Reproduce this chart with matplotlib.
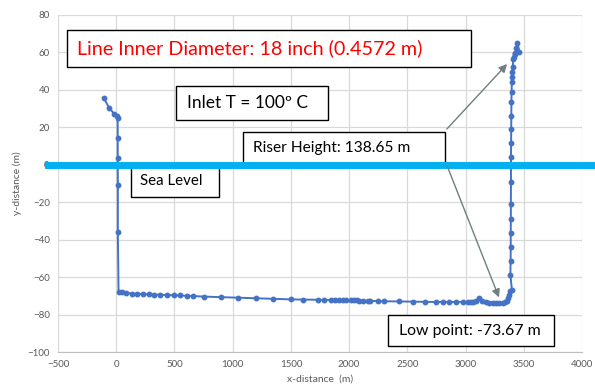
import matplotlib
matplotlib.use('Agg')
import matplotlib.pyplot as plt
from matplotlib.patches import Rectangle

# pipeline profile: onshore drop, seabed run, riser
x_down = [-105, -62, -15, 5, 12, 13, 13, 14, 14, 20]
y_down = [35.5, 30.5, 27.0, 26.0, 25.0, 14.5, 3.5, -11.0, -36.0, -68.0]

x_seabed = [49, 86, 135, 178, 229, 278, 326, 378, 435, 493, 550, 605, 658, 750,
            900, 1050, 1200, 1350, 1500, 1600, 1729, 1786, 1844, 1881, 1915, 1944,
            1972, 2016, 2044, 2064, 2087, 2121, 2158, 2179, 2244, 2302, 2425, 2545,
            2651, 2746, 2803, 2860, 2917, 2974, 3017, 3046, 3066, 3089, 3117, 3141,
            3175, 3203, 3232, 3261, 3289, 3318, 3338, 3352]
y_seabed = [-68.0, -68.3, -68.8, -69.0, -69.1, -69.2, -69.3, -69.4, -69.6, -69.7,
            -69.8, -70.0, -70.1, -70.4, -70.7, -71.0, -71.3, -71.6, -71.9, -72.0,
            -72.1, -72.2, -72.2, -72.3, -72.3, -72.4, -72.4, -72.3, -72.3, -72.2,
            -72.5, -72.6, -72.7, -72.7, -72.8, -72.9, -73.0, -73.1, -73.2, -73.3,
            -73.3, -73.3, -73.3, -73.2, -73.4, -73.5, -73.5, -72.5, -71.2, -72.5,
            -73.5, -73.6, -73.67, -73.67, -73.67, -73.6, -73.4, -72.8]

x_riser = [3362, 3372, 3378, 3398, 3385, 3387, 3388, 3388, 3389, 3389, 3390, 3390,
           3391, 3392, 3393, 3394, 3395, 3398, 3400, 3402, 3405, 3410, 3418, 3424,
           3428, 3432, 3446, 3461]
y_riser = [-71.0, -69.8, -67.2, -66.9, -58.7, -51.2, -43.7, -36.2, -28.7, -21.2,
           -9.2, 4.2, 11.4, 18.9, 26.0, 33.7, 39.0, 44.4, 47.1, 49.8, 52.4, 56.4,
           57.5, 59.0, 59.6, 62.3, 65.0, 60.5]

x_all = x_down + x_seabed + x_riser
y_all = y_down + y_seabed + y_riser

W, H = 595, 385
plt.rcParams['font.family'] = ['Lato', 'DejaVu Sans']

fig = plt.figure(figsize=(W / 100, H / 100), dpi=100)
ax = fig.add_axes([58 / W, 1 - 352 / H, (582 - 58) / W, (352 - 15) / H])

ax.plot(x_all, y_all, color='#4472C4', lw=1.4, marker='o', markersize=3.2, zorder=3)

ax.set_xlim(-500, 4000)
ax.set_ylim(-100, 80)
ax.set_xticks(range(-500, 4001, 500))
ax.set_yticks(range(-100, 81, 20))
ax.grid(True, color='#D9D9D9', lw=0.9)
ax.set_axisbelow(True)
for s in ['top', 'left', 'right']:
    ax.spines[s].set_visible(False)
ax.spines['bottom'].set_color('#BFBFBF')
ax.tick_params(length=0, labelsize=7, labelcolor='#595959', pad=6)
ax.set_xlabel('x-distance  (m)', fontsize=7.5, color='#595959', labelpad=4)
ax.set_ylabel('y-distance (m)', fontsize=7.5, color='#595959', labelpad=4)


def px(x, y):
    # pixel coords (top-left origin) -> figure fraction
    return x / W, 1 - y / H


def box(x0, y0, x1, y1, text, tx, size, color='black'):
    fx, fy = px(x0, y1)
    fig.add_artist(Rectangle((fx, fy), (x1 - x0) / W, (y1 - y0) / H,
                             transform=fig.transFigure, facecolor='white',
                             edgecolor='black', lw=1.0, zorder=5))
    cx, cy = px(tx, (y0 + y1) / 2)
    fig.text(cx, cy, text, fontsize=size, color=color, ha='left', va='center',
             zorder=6)


box(67, 30, 471, 67, 'Line Inner Diameter: 18 inch (0.4572 m)', 77, 14.2, 'red')
box(176, 86, 328, 120, 'Inlet T = 100º C', 187, 12.5)
box(243, 132, 445, 164, 'Riser Height: 138.65 m', 253, 11.2)
box(131, 165, 219, 197, 'Sea Level', 140, 10.8)
box(388, 315, 554, 346, 'Low point: -73.67 m', 399, 11.4)

# sea level line
x0, y0 = px(48, 164.5)
x1, _ = px(595, 164.5)
fig.add_artist(plt.Line2D([x0, x1], [y0, y0], transform=fig.transFigure,
                          color='#00B0F0', lw=5, zorder=7))

# arrows
arrow_kw = dict(arrowstyle='-|>', color='#6F7F7F', lw=1.0, mutation_scale=12)
fig.add_artist(matplotlib.patches.FancyArrowPatch(px(445, 131), px(509, 62),
               transform=fig.transFigure, zorder=8, **arrow_kw))
fig.add_artist(matplotlib.patches.FancyArrowPatch(px(446, 163), px(500, 300),
               transform=fig.transFigure, zorder=8, **arrow_kw))

fig.savefig('out.png', dpi=100)
